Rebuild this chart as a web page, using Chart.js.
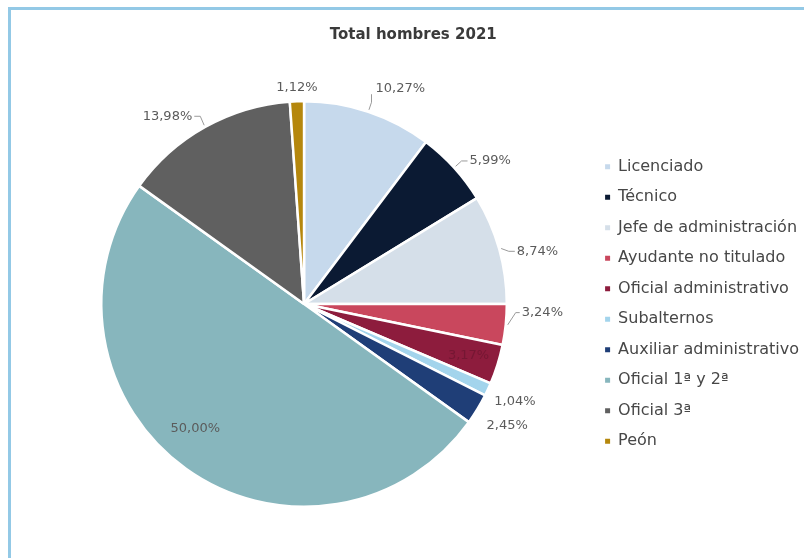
<!DOCTYPE html>
<html>
<head>
<meta charset="utf-8">
<script src="https://cdn.jsdelivr.net/npm/chart.js@4.4.0/dist/chart.umd.min.js"></script>
<style>
  html, body { margin: 0; padding: 0; background: #fff; overflow: hidden; width: 804px; height: 558px; }
  #frame { position: absolute; left: 8px; top: 7px; width: 840px; height: 600px;
           border-left: 3px solid #93c9e6; border-top: 3px solid #93c9e6; }
  #chart { position: absolute; left: 0; top: 0; }
</style>
</head>
<body>
<div id="frame"></div>
<canvas id="chart" width="816" height="558"></canvas>
<script>
const titleText = 'Total hombres 2021';
const categories = ['Licenciado', 'Técnico', 'Jefe de administración', 'Ayudante no titulado',
  'Oficial administrativo', 'Subalternos', 'Auxiliar administrativo', 'Oficial 1ª y 2ª',
  'Oficial 3ª', 'Peón'];
const shares = [10.27, 5.99, 8.74, 3.24, 3.17, 1.04, 2.45, 50.00, 13.98, 1.12];
const sliceColors = ['#c6d9ec', '#0b1a33', '#d5dfe9', '#c9475d', '#8d1c3d',
  '#a3d4ec', '#1f3e77', '#87b6bd', '#606060', '#b5870c'];

// where each percentage sits relative to its slice
const placement = [
  { mode: 'leader', tick: 0, dx: 2, dy: -14 },
  { mode: 'leader', tick: 6 },
  { mode: 'leader', tick: 6, bend: 5 },
  { mode: 'leader', tick: 4, bend: -13 },
  { mode: 'inside', at: 0.85, color: '#751733' },
  { mode: 'plain', gap: 6, dx: 1, dy: 10 },
  { mode: 'plain', gap: 6, dx: 4, dy: 13 },
  { mode: 'inside', at: 0.81, dx: -13, dy: -9 },
  { mode: 'leader', tick: 6, bend: -2 },
  { mode: 'top' }
];

const fmt = v => v.toFixed(2).replace('.', ',') + '%';

const pctLabels = {
  id: 'pctLabels',
  afterDatasetsDraw(chart) {
    const ctx = chart.ctx;
    const meta = chart.getDatasetMeta(0);
    ctx.save();
    ctx.font = '13px "DejaVu Sans"';
    ctx.textBaseline = 'middle';
    meta.data.forEach((arc, i) => {
      const { x, y, startAngle, endAngle, outerRadius: r } =
        arc.getProps(['x', 'y', 'startAngle', 'endAngle', 'outerRadius'], true);
      const mid = (startAngle + endAngle) / 2;
      const cx = Math.cos(mid), sy = Math.sin(mid);
      const p = placement[i] || { mode: 'leader', tick: 6 };
      const txt = fmt(shares[i]);
      const side = cx >= 0 ? 1 : -1;
      const dx = p.dx || 0, dy = p.dy || 0;
      ctx.fillStyle = p.color || '#5b5b5b';
      if (p.mode === 'inside') {
        ctx.textAlign = 'center';
        ctx.fillText(txt, x + cx * r * p.at + dx, y + sy * r * p.at + dy);
      } else if (p.mode === 'top') {
        ctx.textAlign = 'center';
        ctx.fillText(txt, x + cx * r, y + sy * r - 14);
      } else if (p.mode === 'plain') {
        ctx.textAlign = side > 0 ? 'left' : 'right';
        ctx.fillText(txt, x + cx * (r + p.gap) + dx, y + sy * (r + p.gap) + dy);
      } else {
        const x0 = x + cx * (r + 2), y0 = y + sy * (r + 2);
        const x1 = x + cx * (r + 10), y1 = y + sy * (r + 10) + (p.bend || 0);
        const x2 = x1 + side * p.tick;
        ctx.strokeStyle = '#9a9a9a';
        ctx.lineWidth = 1;
        ctx.beginPath();
        ctx.moveTo(x0, y0);
        ctx.lineTo(x1, y1);
        ctx.lineTo(x2, y1);
        if (dy) ctx.lineTo(x2, y1 + dy + 6);
        ctx.stroke();
        ctx.textAlign = side > 0 ? 'left' : 'right';
        ctx.fillText(txt, x2 + side * 2 + dx, y1 + dy);
      }
    });
    ctx.restore();
  }
};

new Chart(document.getElementById('chart'), {
  type: 'pie',
  data: {
    labels: categories,
    datasets: [{
      data: shares,
      backgroundColor: sliceColors,
      borderColor: '#ffffff',
      borderWidth: 2.5
    }]
  },
  options: {
    responsive: false,
    animation: false,
    devicePixelRatio: 1,
    layout: { padding: { left: 17.5, right: 7, top: 0, bottom: 50 } },
    plugins: {
      title: {
        display: true,
        text: titleText,
        color: '#3a3a3a',
        font: { family: 'DejaVu Sans', size: 15, weight: 'bold' },
        padding: { top: 26, bottom: 56 }
      },
      legend: {
        position: 'right',
        fullSize: false,
        align: 'center',
        labels: {
          boxWidth: 5,
          boxHeight: 5,
          padding: 14.5,
          color: '#474747',
          font: { family: 'DejaVu Sans', size: 16 },
          generateLabels: chart =>
            Chart.overrides.pie.plugins.legend.labels.generateLabels(chart)
              .map(l => Object.assign(l, { lineWidth: 0, strokeStyle: 'transparent' }))
        }
      },
      tooltip: { enabled: false }
    }
  },
  plugins: [pctLabels]
});
</script>
</body>
</html>
